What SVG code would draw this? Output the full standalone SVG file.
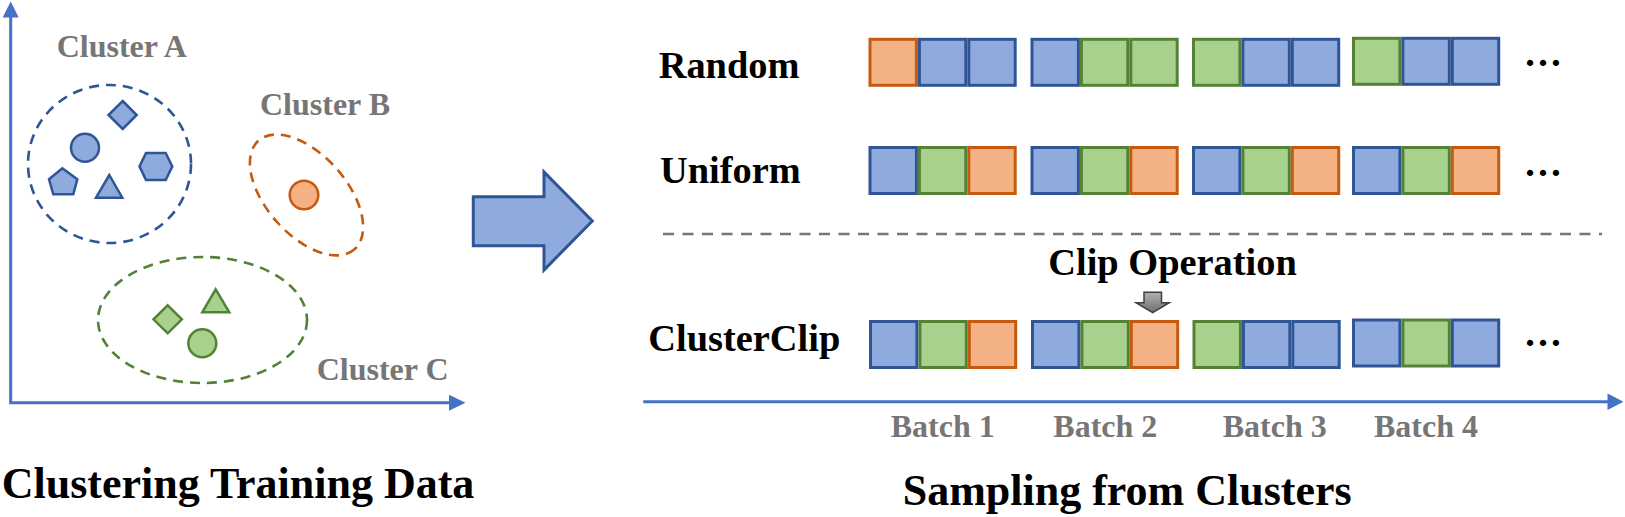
<svg xmlns="http://www.w3.org/2000/svg" width="1625" height="517" viewBox="0 0 1625 517">
<defs>
<style>
text{font-family:"Liberation Serif","Times New Roman",serif;font-weight:bold}
.lbl{fill:#767676;font-size:32px}
.row{fill:#000;font-size:38.4px}
.title{fill:#000;font-size:44px}
.axis{stroke:#4472C4;stroke-width:3;fill:none}
.axh{fill:#4472C4}
.b{fill:#8FAADC;stroke:#2F5597;stroke-width:3}
.g{fill:#A9D18E;stroke:#548235;stroke-width:3}
.o{fill:#F4B183;stroke:#C55A11;stroke-width:3}
.sb{fill:#8FAADC;stroke:#2F5597;stroke-width:2.5}
.sg{fill:#A9D18E;stroke:#548235;stroke-width:2.5}
.so{fill:#F4B183;stroke:#C55A11;stroke-width:2.5}
.dash{fill:none;stroke-width:2.6;stroke-dasharray:10 7}
</style>
<linearGradient id="gray" x1="0" y1="0" x2="0" y2="1">
<stop offset="0" stop-color="#B0B0B0"/>
<stop offset="1" stop-color="#6E6E6E"/>
</linearGradient>
</defs>
<rect width="1625" height="517" fill="#fff"/>

<g id="left-axes">
<line class="axis" x1="10.7" y1="402.7" x2="10.7" y2="16"/>
<polygon class="axh" points="10.7,1.5 2.7,17.5 18.7,17.5"/>
<line class="axis" x1="9.2" y1="402.7" x2="450" y2="402.7"/>
<polygon class="axh" points="465.5,402.7 449,394.7 449,410.7"/>
</g>

<g id="cluster-a">
<ellipse class="dash" stroke="#2F5597" cx="109.5" cy="164" rx="81.5" ry="79"/>
<polygon class="sb" points="122.7,101 136.7,115 122.7,129 108.5,115"/>
<circle class="sb" cx="85" cy="147.8" r="14"/>
<polygon class="sb" points="139.5,166.4 146,153 165.7,153 172.3,166.4 165.7,180 146,180"/>
<polygon class="sb" points="62.3,168.3 77.3,179.3 73.3,194.3 53.3,194.3 49,179.3"/>
<polygon class="sb" points="109.3,175 122.3,197.7 96,197.7"/>
<text class="lbl" x="56.7" y="57.3">Cluster A</text>
</g>

<g id="cluster-b">
<ellipse class="dash" stroke="#C55A11" cx="306.5" cy="195" rx="72.5" ry="40" transform="rotate(48.5 306.5 195)"/>
<circle class="so" cx="304" cy="195" r="14.3"/>
<text class="lbl" x="260" y="115">Cluster B</text>
</g>

<g id="cluster-c">
<ellipse class="dash" stroke="#548235" cx="202.5" cy="320" rx="104.5" ry="63"/>
<polygon class="sg" points="215.7,289.3 229.3,312.3 202.3,312.3"/>
<polygon class="sg" points="167.7,305.3 181.9,319.3 167.7,333.3 153.5,319.3"/>
<circle class="sg" cx="202.3" cy="343.3" r="14"/>
<text class="lbl" x="316.7" y="380">Cluster C</text>
</g>

<g id="title-left">
<text class="title" x="1.7" y="498.3" font-size="43.7">Clustering Training Data</text>
</g>

<g id="connectors">
<polygon points="473.3,196.8 544,196.8 544,172 592.3,221 544,270 544,245.7 473.3,245.7" fill="#8FAADC" stroke="#2F5597" stroke-width="3" stroke-linejoin="miter"/>
<polygon points="1144,292.3 1161.5,292.3 1161.5,302.7 1169.3,302.7 1152.7,312.7 1136,302.7 1144,302.7" fill="url(#gray)" stroke="#3F3F3F" stroke-width="1.5"/>
</g>

<g id="row-random">
<text class="row" x="658.7" y="78.3">Random</text>
<rect class="o" x="870" y="39.3" width="46.4" height="46"/>
<rect class="b" x="919.4" y="39.3" width="46.4" height="46"/>
<rect class="b" x="968.8" y="39.3" width="46.4" height="46"/>
<rect class="b" x="1032" y="39.3" width="46.4" height="46"/>
<rect class="g" x="1081.4" y="39.3" width="46.4" height="46"/>
<rect class="g" x="1130.8" y="39.3" width="46.4" height="46"/>
<rect class="g" x="1193.5" y="39.3" width="46.4" height="46"/>
<rect class="b" x="1242.9" y="39.3" width="46.4" height="46"/>
<rect class="b" x="1292.3" y="39.3" width="46.4" height="46"/>
<rect class="g" x="1353.5" y="38.3" width="46.4" height="46"/>
<rect class="b" x="1402.9" y="38.3" width="46.4" height="46"/>
<rect class="b" x="1452.3" y="38.3" width="46.4" height="46"/>
<text class="row" x="1523.7" y="65.5">…</text>
</g>

<g id="row-uniform">
<text class="row" x="660" y="183.3">Uniform</text>
<rect class="b" x="870" y="147.5" width="46.4" height="46"/>
<rect class="g" x="919.4" y="147.5" width="46.4" height="46"/>
<rect class="o" x="968.8" y="147.5" width="46.4" height="46"/>
<rect class="b" x="1032" y="147.5" width="46.4" height="46"/>
<rect class="g" x="1081.4" y="147.5" width="46.4" height="46"/>
<rect class="o" x="1130.8" y="147.5" width="46.4" height="46"/>
<rect class="b" x="1193.5" y="147.5" width="46.4" height="46"/>
<rect class="g" x="1242.9" y="147.5" width="46.4" height="46"/>
<rect class="o" x="1292.3" y="147.5" width="46.4" height="46"/>
<rect class="b" x="1353.5" y="147.5" width="46.4" height="46"/>
<rect class="g" x="1402.9" y="147.5" width="46.4" height="46"/>
<rect class="o" x="1452.3" y="147.5" width="46.4" height="46"/>
<text class="row" x="1523.7" y="176">…</text>
</g>

<g id="separator">
<line x1="663" y1="234" x2="1602" y2="234" stroke="#767676" stroke-width="2.7" stroke-dasharray="11 8.5"/>
</g>

<g id="clip-label">
<text class="row" x="1048.3" y="275" font-size="33">Clip Operation</text>
</g>

<g id="row-clusterclip">
<text class="row" x="648.3" y="350.7">ClusterClip</text>
<rect class="b" x="870.5" y="321.5" width="46.4" height="46"/>
<rect class="g" x="919.9" y="321.5" width="46.4" height="46"/>
<rect class="o" x="969.3" y="321.5" width="46.4" height="46"/>
<rect class="b" x="1032.5" y="321.5" width="46.4" height="46"/>
<rect class="g" x="1081.9" y="321.5" width="46.4" height="46"/>
<rect class="o" x="1131.3" y="321.5" width="46.4" height="46"/>
<rect class="g" x="1194" y="321.5" width="46.4" height="46"/>
<rect class="b" x="1243.4" y="321.5" width="46.4" height="46"/>
<rect class="b" x="1292.8" y="321.5" width="46.4" height="46"/>
<rect class="b" x="1353.5" y="320" width="46.4" height="46"/>
<rect class="g" x="1402.9" y="320" width="46.4" height="46"/>
<rect class="b" x="1452.3" y="320" width="46.4" height="46"/>
<text class="row" x="1523.7" y="346">…</text>
</g>

<g id="time-axis">
<line class="axis" x1="643.3" y1="401.7" x2="1609" y2="401.7"/>
<polygon class="axh" points="1623.5,401.7 1607.5,393.5 1607.5,409.9"/>
<text class="lbl" x="890.7" y="437.3">Batch 1</text>
<text class="lbl" x="1053.3" y="437.3">Batch 2</text>
<text class="lbl" x="1222.7" y="437.3">Batch 3</text>
<text class="lbl" x="1374" y="437.3">Batch 4</text>
</g>

<g id="title-right">
<text class="title" x="902.7" y="505">Sampling from Clusters</text>
</g>
</svg>
